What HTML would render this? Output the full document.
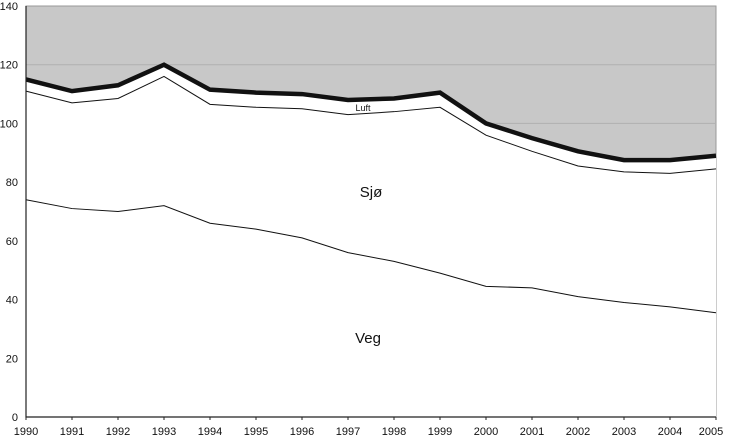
<!DOCTYPE html>
<html><head><meta charset="utf-8"><style>
body{margin:0;background:#fff}
svg text{font-family:"Liberation Sans",Arial,sans-serif;fill:#111}
</style></head><body>
<svg width="730" height="437" id="c" xmlns="http://www.w3.org/2000/svg"></svg>
<script>
const years=[1990,1991,1992,1993,1994,1995,1996,1997,1998,1999,2000,2001,2002,2003,2004,2005];
const veg=[74,71,70,72,66,64,61,56,53,49,44.5,44,41,39,37.5,35.5];
const sjoTop=[111,107,108.5,116,106.5,105.5,105,103,104,105.5,96,90.5,85.5,83.5,83,84.5];
const total=[115,111,113,120,111.5,110.5,110,108,108.5,110.5,100,95,90.5,87.5,87.5,89];
const yTicks=[0,20,40,60,80,100,120,140];
const NS="http://www.w3.org/2000/svg";
const svg=document.getElementById('c');
const x0=26,x1=716,yTop=6,yBot=417;
const xs=i=>x0+(x1-x0)*i/(years.length-1);
const ys=v=>yBot-(yBot-yTop)*v/140;
function mk(t,a,p){const e=document.createElementNS(NS,t);for(const k in a)e.setAttribute(k,a[k]);(p||svg).appendChild(e);return e;}
const bg=mk('rect',{x:x0,y:yTop,width:x1-x0,height:yBot-yTop,fill:'#c8c8c8',stroke:'#999','stroke-width':1});


yTicks.forEach(v=>{if(v>0&&v<140){const g=mk('line',{x1:x0,x2:x1,y1:ys(v),y2:ys(v),stroke:'#b0b0b0','stroke-width':1});

}});
const pts=arr=>arr.map((v,i)=>xs(i)+','+ys(v)).join(' ');
const area=mk('polygon',{points:pts(total)+' '+x1+','+yBot+' '+x0+','+yBot,fill:'#fff'});


const lv=mk('polyline',{points:pts(veg),fill:'none',stroke:'#111','stroke-width':1});


const ls=mk('polyline',{points:pts(sjoTop),fill:'none',stroke:'#111','stroke-width':1});


const lt=mk('polyline',{points:pts(total),fill:'none',stroke:'#111','stroke-width':4.5,'stroke-linejoin':'miter'});


const ax=mk('path',{d:`M${x0},${yTop}V${yBot}H${x1}`,fill:'none',stroke:'#222','stroke-width':1.2});


yTicks.forEach(v=>{const t=mk('text',{x:18,y:ys(v)+4,'text-anchor':'end','font-size':11});t.textContent=v;

});
years.forEach((yr,i)=>{const tk=mk('line',{x1:xs(i),x2:xs(i),y1:yBot,y2:yBot+3,stroke:'#222'});


const t=mk('text',{x:Math.min(Math.max(xs(i),19),711),y:435,'text-anchor':'middle','font-size':11});t.textContent=yr;

});
[['Sjø',371,197,15,'label-sjo'],['Veg',368,343,15,'label-veg'],['Luft',363,111,9,'label-luft']].forEach(l=>{
const t=mk('text',{x:l[1],y:l[2],'text-anchor':'middle','font-size':l[3]});t.textContent=l[0];

});
</script>
</body></html>
